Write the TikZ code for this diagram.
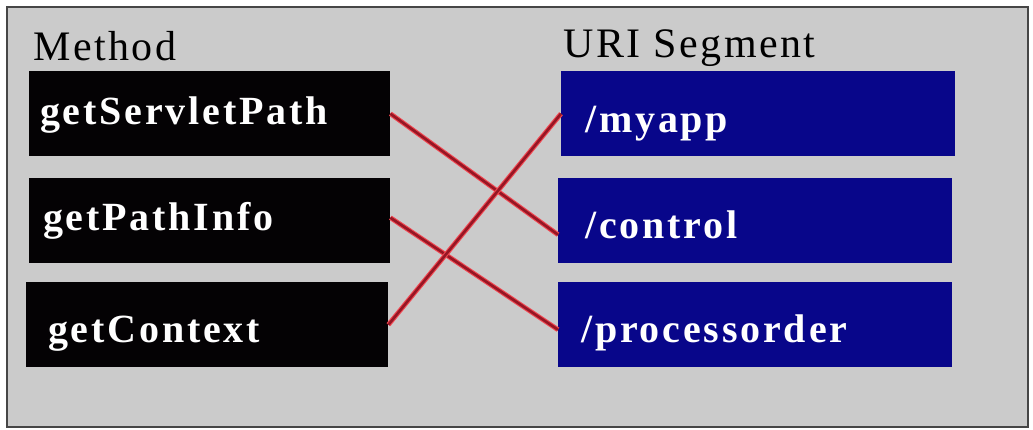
\documentclass[tikz,border=0pt]{standalone}
\usepackage{fontspec}
\newfontfamily\boxfont[LetterSpace=7]{Liberation Serif}
\newfontfamily\headfont[LetterSpace=6]{Liberation Serif}
\definecolor{panelgray}{RGB}{203,203,203}
\definecolor{framegray}{RGB}{70,70,70}
\definecolor{boxblack}{RGB}{4,2,4}
\definecolor{boxblue}{RGB}{8,6,138}
\definecolor{linkhalo}{RGB}{240,70,80}
\definecolor{linkcore}{RGB}{150,22,36}
\tikzset{
  heading/.style={anchor=base west, inner sep=0pt, text=black,
    font=\headfont\fontsize{42}{48}\selectfont},
  methodbox/.style={anchor=north west, fill=boxblack, draw=none, inner ysep=0pt,
    minimum height=85pt, align=left, text=white,
    font=\boxfont\bfseries\fontsize{40}{48}\selectfont},
  segbox/.style={methodbox, fill=boxblue},
  link/.style={draw=linkhalo, double=linkcore, double distance=2.6pt, line width=1.1pt}
}
\begin{document}
\begin{tikzpicture}[x=1pt,y=-1pt]
\useasboundingbox (0,0) rectangle (1033,429);
\fill[white] (0,0) rectangle (1033,429);
\draw[framegray, line width=2pt, fill=panelgray] (7,7) rectangle (1028,427);

\node[heading] (hmethod) at (33,60) {Method};
\node[heading] (hsegment) at (563,57) {URI Segment};

\node[methodbox, inner xsep=11pt, text width=339pt, text height=53pt, text depth=32pt]
  (sp) at (29,71) {getServletPath};
\node[methodbox, inner xsep=14pt, text width=333pt, text height=52pt, text depth=33pt]
  (pi) at (29,178) {getPathInfo};
\node[methodbox, inner xsep=22pt, text width=318pt, text height=60.5pt, text depth=24.5pt]
  (ctx) at (26,282) {getContext};

\node[segbox, inner xsep=24pt, text width=346pt, text height=61pt, text depth=24pt]
  (app) at (561,71) {/myapp};
\node[segbox, inner xsep=27pt, text width=340pt, text height=60.5pt, text depth=24.5pt]
  (ctl) at (558,178) {/control};
\node[segbox, inner xsep=23pt, text width=348pt, text height=60pt, text depth=25pt]
  (proc) at (558,282) {/processorder};

\draw[link] (sp.east) -- ([yshift=-14pt]ctl.west);
\draw[link] ([yshift=3pt]pi.east) -- ([yshift=-5pt]proc.west);
\draw[link] (ctx.east) -- (app.west);
\end{tikzpicture}
\end{document}
